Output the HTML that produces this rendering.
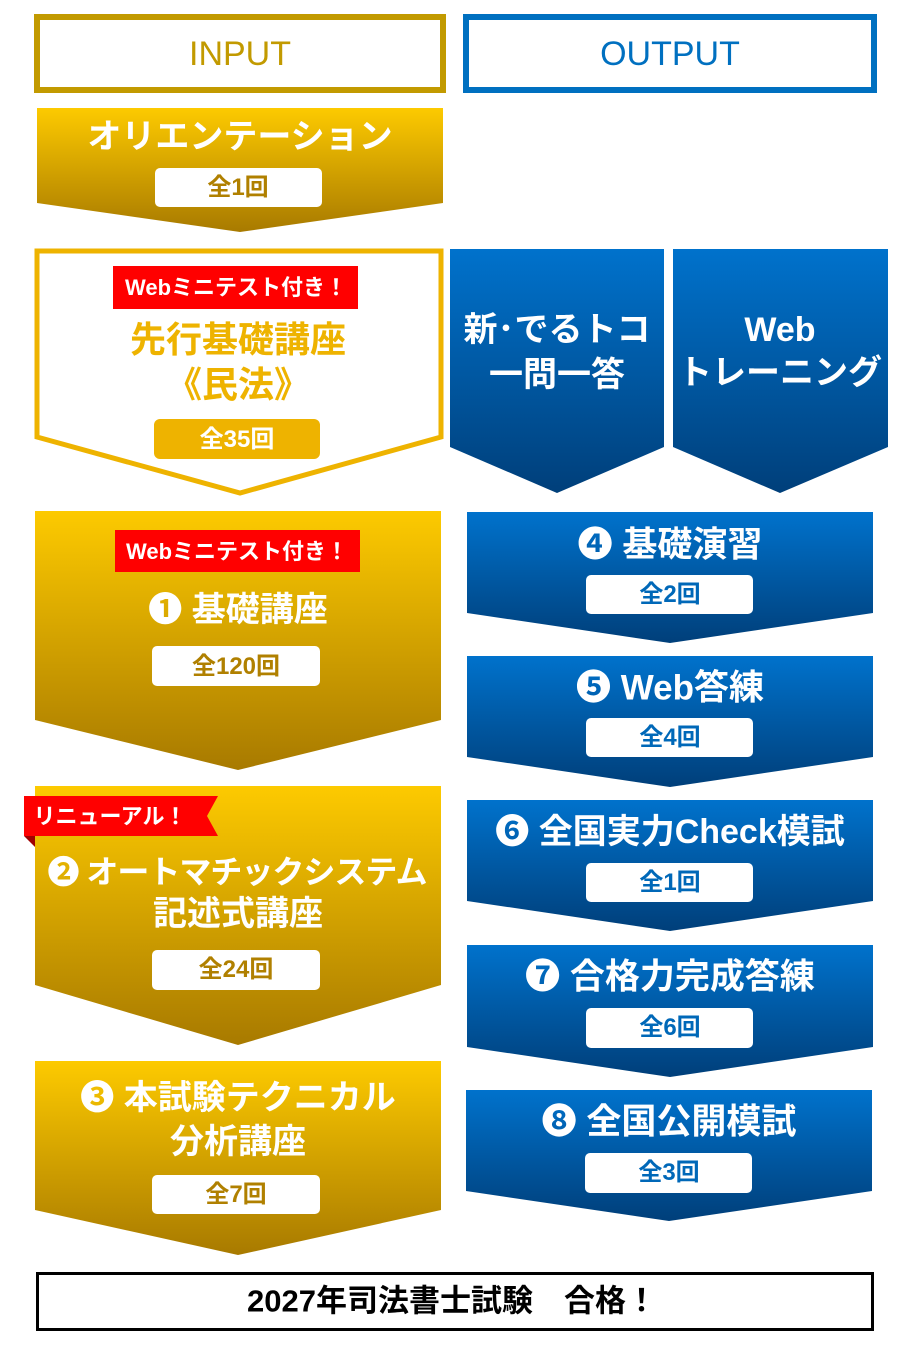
<!DOCTYPE html>
<html><head><meta charset="utf-8"><style>
body{margin:0;width:918px;height:1347px;background:#fff;position:relative;overflow:hidden;font-family:"Liberation Sans","Noto Sans CJK JP",sans-serif;}
svg{position:absolute;left:0;top:0}
.t{position:absolute;text-align:center;font-weight:bold;white-space:nowrap;line-height:1;transform:translate(-50%,-50%)}
.w{color:#fff}
.g{color:#b08000}
.b{color:#0068b8}
</style></head><body>
<svg width="918" height="1347">
<defs>
<linearGradient id="gd" x1="0" y1="0" x2="0" y2="1"><stop offset="0" stop-color="#fdca00"/><stop offset="1" stop-color="#a87a00"/></linearGradient>
<linearGradient id="bl" x1="0" y1="0" x2="0" y2="1"><stop offset="0" stop-color="#0072cc"/><stop offset="1" stop-color="#003f7a"/></linearGradient>
</defs>
<rect x="37" y="17" width="406" height="73" fill="#fff" stroke="#c29a00" stroke-width="6"/>
<rect x="466" y="17" width="408" height="73" fill="#fff" stroke="#0070c0" stroke-width="6"/>
<polygon points="37,108 443,108 443,203 240,232 37,203" fill="url(#gd)"/>
<polygon points="37,251 441,251 441,437 240,493 37,437" fill="#fff" stroke="#eeb300" stroke-width="5"/>
<polygon points="450,249 664,249 664,447 557,493 450,447" fill="url(#bl)"/>
<polygon points="673,249 888,249 888,447 780,493 673,447" fill="url(#bl)"/>
<polygon points="35,511 441,511 441,720 238,770 35,720" fill="url(#gd)"/>
<polygon points="35,786 441,786 441,985 238,1045 35,985" fill="url(#gd)"/>
<polygon points="35,1061 441,1061 441,1210 238,1255 35,1210" fill="url(#gd)"/>
<polygon points="467,512 873,512 873,613 670,643 467,613" fill="url(#bl)"/>
<polygon points="467,656 873,656 873,757 670,787 467,757" fill="url(#bl)"/>
<polygon points="467,800 873,800 873,901 670,931 467,901" fill="url(#bl)"/>
<polygon points="467,945 873,945 873,1047 670,1077 467,1047" fill="url(#bl)"/>
<polygon points="466,1090 872,1090 872,1191 669,1221 466,1191" fill="url(#bl)"/>
<rect x="113" y="266" width="245" height="43" fill="#f00"/>
<rect x="115" y="530" width="245" height="42" fill="#f00"/>
<polygon points="24,836 35,836 35,847" fill="#a00000"/>
<polygon points="24,796 218,796 207,816 218,836 24,836" fill="#f00"/>
<rect x="155" y="168" width="167" height="39" rx="5" fill="#fff"/>
<rect x="154" y="419" width="166" height="40" rx="6" fill="#eeb300"/>
<rect x="152" y="646" width="168" height="40" rx="5" fill="#fff"/>
<rect x="152" y="950" width="168" height="40" rx="5" fill="#fff"/>
<rect x="152" y="1175" width="168" height="39" rx="5" fill="#fff"/>
<rect x="586" y="575" width="167" height="39" rx="5" fill="#fff"/>
<rect x="586" y="718" width="167" height="39" rx="5" fill="#fff"/>
<rect x="586" y="863" width="167" height="39" rx="5" fill="#fff"/>
<rect x="586" y="1008" width="167" height="40" rx="5" fill="#fff"/>
<rect x="585" y="1153" width="167" height="40" rx="5" fill="#fff"/>
<rect x="37.5" y="1273.5" width="835" height="56" fill="#fff" stroke="#000" stroke-width="3"/>
</svg>
<div class="t" style="left:240px;top:54px;font-size:34px;font-weight:normal;color:#c29a00">INPUT</div>
<div class="t" style="left:670px;top:54px;font-size:34px;font-weight:normal;color:#0070c0">OUTPUT</div>
<div class="t w" style="left:240px;top:137px;font-size:34px">オリエンテーション</div>
<div class="t g" style="left:238px;top:188px;font-size:24px">全1回</div>
<div class="t w" style="left:236px;top:288px;font-size:22px">Webミニテスト付き！</div>
<div class="t" style="left:238px;top:340px;font-size:36px;color:#eeb300">先行基礎講座</div>
<div class="t" style="left:238px;top:385px;font-size:36px;color:#eeb300">《民法》</div>
<div class="t w" style="left:237px;top:440px;font-size:24px">全35回</div>
<div class="t w" style="left:557px;top:330px;font-size:34px">新･でるトコ</div>
<div class="t w" style="left:557px;top:375px;font-size:34px">一問一答</div>
<div class="t w" style="left:780px;top:330px;font-size:34px">Web</div>
<div class="t w" style="left:780px;top:373px;font-size:34px">トレーニング</div>
<div class="t w" style="left:237px;top:552px;font-size:22px">Webミニテスト付き！</div>
<div class="t w" style="left:238px;top:610px;font-size:34px">❶ 基礎講座</div>
<div class="t g" style="left:236px;top:667px;font-size:24px">全120回</div>
<div class="t w" style="left:110px;top:817px;font-size:22px">リニューアル！</div>
<div class="t w" style="left:237px;top:872px;font-size:32px;letter-spacing:-1px">❷ オートマチックシステム</div>
<div class="t w" style="left:238px;top:914px;font-size:34px">記述式講座</div>
<div class="t g" style="left:236px;top:970px;font-size:24px">全24回</div>
<div class="t w" style="left:238px;top:1098px;font-size:34px">❸ 本試験テクニカル</div>
<div class="t w" style="left:238px;top:1142px;font-size:34px">分析講座</div>
<div class="t g" style="left:236px;top:1195px;font-size:24px">全7回</div>
<div class="t w" style="left:670px;top:545px;font-size:35px">❹ 基礎演習</div>
<div class="t b" style="left:670px;top:595px;font-size:24px">全2回</div>
<div class="t w" style="left:670px;top:688px;font-size:35px">❺ Web答練</div>
<div class="t b" style="left:670px;top:738px;font-size:24px">全4回</div>
<div class="t w" style="left:670px;top:832px;font-size:34px">❻ 全国実力Check模試</div>
<div class="t b" style="left:670px;top:883px;font-size:24px">全1回</div>
<div class="t w" style="left:670px;top:977px;font-size:35px">❼ 合格力完成答練</div>
<div class="t b" style="left:670px;top:1028px;font-size:24px">全6回</div>
<div class="t w" style="left:669px;top:1122px;font-size:35px">❽ 全国公開模試</div>
<div class="t b" style="left:669px;top:1173px;font-size:24px">全3回</div>
<div class="t" style="left:452px;top:1301px;font-size:31px;color:#000">2027年司法書士試験　合格！</div>
</body></html>
